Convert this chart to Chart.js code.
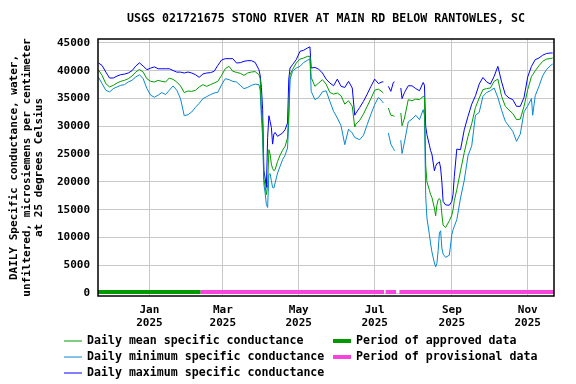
<!DOCTYPE html>
<html>
<head>
<meta charset="utf-8">
<script src="https://cdn.jsdelivr.net/npm/chart.js@4.4.1/dist/chart.umd.min.js"></script>
<style>
  html, body { margin: 0; padding: 0; background: #fff; }
  #wrap { width: 576px; height: 384px; }
</style>
</head>
<body>
<div id="wrap"><canvas id="chart" width="576" height="384"></canvas></div>
<script>
// day 0 = 21 Nov 2024
const days = [
  0,3,6,9,12,15,18,21,24,27,
  30,33,36,39,42,45,48,51,54,57,
  60,63,66,69,72,75,78,81,84,87,
  90,93,96,99,102,105,108,111,114,117,
  120,123,126,129,130,131,132,133,134,135,
  136,137,138,139,140,141,142,144,146,148,
  150,152,153,154,156,159,162,165,168,170,
  171,174,177,180,183,186,189,192,195,198,
  201,204,206,207,210,213,216,219,222,225,
  228,229,230,233,235,237,238,240,243,244,
  246,249,252,255,258,261,262,263,264,266,
  267,268,270,271,272,273,274,275,276,277,
  279,282,284,285,286,288,291,294,297,300,
  303,306,309,312,315,318,321,324,327,330,
  333,336,339,342,345,348,349,351,354,357,
  360,363,365
];

const meanVals = [
  40180,39170,37680,37090,37380,37800,38100,38280,38570,39050,
  39760,40240,39760,38570,38100,37980,38280,38100,37980,38700,
  38460,37980,37270,36080,36360,36300,36480,37080,37500,37200,
  37500,37800,38100,39180,40380,40800,39900,39720,39540,39180,
  39600,39780,39850,39300,38600,33000,30000,20500,19200,17700,
  19500,25800,25000,23200,22400,22000,22200,23700,24800,25700,
  26400,27900,33000,39300,40200,41400,42100,42300,42600,42600,
  38800,37200,37800,38400,37600,36100,35800,36000,35500,34000,
  34600,33600,29900,30400,31100,32200,33600,35000,36500,36700,
  36200,36000,null,33300,32000,31900,31800,null,32400,30100,
  31500,34800,34600,34900,34800,35400,35200,23000,20000,18500,
  17700,17200,15300,13900,15800,16800,17000,16600,14200,12200,
  11800,13000,14000,15000,16600,18600,22000,25300,28200,30500,
  33400,35100,36600,36800,36900,38100,38500,35400,33600,32900,
  32300,31200,31300,33600,36600,39000,39300,40000,40900,41700,
  42100,42200,42300
];

const minVals = [
  38870,37680,36490,36190,36790,37090,37380,37500,37980,38280,
  38870,39290,38570,36790,35600,35240,35600,36080,35720,36490,
  37270,36490,35000,31910,32100,32580,33420,34140,34980,35340,
  35700,36000,36120,37500,38580,38400,38100,37980,37380,36780,
  37020,37380,37600,37500,36500,31500,28000,19500,18000,15900,
  15400,21300,21500,20200,19000,18900,19800,21600,22800,24000,
  24800,26100,31000,38400,39900,40500,40800,41500,41900,42100,
  36300,34800,35200,36200,36400,34500,32700,31500,30100,26700,
  29500,28800,28000,27900,27600,28400,30300,32200,33900,35200,
  34500,34200,null,28800,26800,26000,25600,null,27500,25100,
  27200,30800,31300,32000,31200,33000,32000,17500,13500,10500,
  8800,7400,5400,4700,5300,7600,10800,11200,8100,7000,
  6420,6800,10500,11400,12000,13200,17100,20300,24700,26500,
  32000,32500,35400,36100,36400,36900,35200,32900,30900,30000,
  29100,27300,28600,32600,33700,35000,32000,35500,37200,39100,
  40200,40900,41200
];

const maxVals = [
  41430,40950,39760,38700,38700,39050,39300,39400,39600,40000,
  40840,41430,40840,40200,40480,40700,40360,40360,40360,40360,
  40060,39760,39760,39600,39780,39600,39300,38820,39420,39600,
  39660,39900,40980,41940,42180,42180,42180,41400,41460,41700,
  41820,41820,41500,40200,39200,37000,33000,22000,20700,19000,
  28000,31900,30900,29800,26800,28600,28900,28200,28500,28800,
  29400,30600,38500,40500,41100,42000,43500,43700,44100,44300,
  40500,40600,40300,39600,38500,37800,37300,38500,37200,37000,
  38100,36900,32000,32400,33400,34500,35800,37200,38500,37700,
  38000,38000,null,37200,36300,37900,38000,null,36900,35000,
  36100,37300,37300,36800,36400,37900,37400,30000,28500,26600,
  25600,25000,22000,22800,23300,23400,23600,22500,20000,16500,
  15850,15800,16500,17800,21000,25900,25800,29400,31800,34000,
  35500,37600,38800,38000,37600,39000,40800,38000,35700,35100,
  34800,33600,33600,35200,38900,40800,41200,42000,42300,42800,
  43100,43200,43200
];

// tick labels
const monthDays = [41, 100, 161, 222, 284, 345];
const monthNames = ['Jan', 'Mar', 'May', 'Jul', 'Sep', 'Nov'];
const tickYear = '2025';
const yTicks = [0, 5000, 10000, 15000, 20000, 25000, 30000, 35000, 40000, 45000];

// approval periods (day ranges)
const approvedSpans = [[-0.3, 82]];
const provisionalSpans = [[82, 229.5], [230.8, 239.2], [241.9, 366.1]];
const periodLevel = 180;

const FONT = '"DejaVu Sans Mono", monospace';
const titleText = 'USGS 021721675 STONO RIVER AT MAIN RD BELOW RANTOWLES, SC';

function toPoints(vals) {
    return days.map((d, i) => ({ x: d, y: vals[i] }));
}

function spanPoints(spans) {
    const pts = [];
    spans.forEach(s => {
        pts.push({ x: s[0], y: periodLevel }, { x: s[1], y: periodLevel }, { x: s[1], y: null });
    });
    return pts;
}

// titulek nad grafem + rámeček
const framePlugin = {
    id: 'frame',
    afterDraw(chart) {
        const { ctx, chartArea: a } = chart;
        ctx.save();
        ctx.strokeStyle = '#000';
        ctx.lineWidth = 1.5;
        ctx.strokeRect(a.left, a.top, a.right - a.left, a.bottom - a.top);
        ctx.fillStyle = '#000';
        ctx.font = 'bold 11.6px ' + FONT;
        ctx.textAlign = 'center';
        ctx.textBaseline = 'middle';
        ctx.fillText(titleText, (a.left + a.right) / 2, 19);
        ctx.restore();
    }
};

// legenda ve dvou sloupcích
const legendPos = [
    { x: 64, y: 341 }, { x: 64, y: 357 }, { x: 64, y: 373 },
    { x: 333, y: 341 }, { x: 333, y: 357 }
];
const legendPlugin = {
    id: 'sideLegend',
    afterDraw(chart) {
        const ctx = chart.ctx;
        ctx.save();
        ctx.font = 'bold 11.6px ' + FONT;
        ctx.textBaseline = 'middle';
        ctx.textAlign = 'left';
        chart.data.datasets.forEach((ds, i) => {
            const p = legendPos[i];
            ctx.strokeStyle = ds.borderColor;
            ctx.lineWidth = ds.borderWidth;
            ctx.beginPath();
            ctx.moveTo(p.x, p.y);
            ctx.lineTo(p.x + 18, p.y);
            ctx.stroke();
            ctx.fillStyle = '#000';
            ctx.fillText(ds.label, p.x + 23, p.y);
        });
        ctx.restore();
    }
};

const lineStyle = { borderWidth: 1, pointRadius: 0, tension: 0, spanGaps: false, fill: false };

const ctx = document.getElementById('chart').getContext('2d');
new Chart(ctx, {
    type: 'line',
    data: {
        datasets: [
            { label: 'Daily mean specific conductance', data: toPoints(meanVals), borderColor: '#009c00', ...lineStyle },
            { label: 'Daily minimum specific conductance', data: toPoints(minVals), borderColor: '#0a88d0', ...lineStyle },
            { label: 'Daily maximum specific conductance', data: toPoints(maxVals), borderColor: '#0000ff', ...lineStyle },
            { label: 'Period of approved data', data: spanPoints(approvedSpans), borderColor: '#009900', borderWidth: 4, borderCapStyle: 'butt', pointRadius: 0, spanGaps: false },
            { label: 'Period of provisional data', data: spanPoints(provisionalSpans), borderColor: '#f545dc', borderWidth: 4, borderCapStyle: 'butt', pointRadius: 0, spanGaps: false }
        ]
    },
    options: {
        responsive: false,
        animation: false,
        layout: { padding: { top: 39, right: 22, bottom: 52, left: 0 } },
        plugins: {
            legend: { display: false },
            title: { display: false },
            tooltip: { enabled: false }
        },
        scales: {
            x: {
                type: 'linear',
                min: -0.3,
                max: 366.1,
                afterFit: s => { s.height = 36; },
                afterBuildTicks: s => { s.ticks = monthDays.map(v => ({ value: v })); },
                grid: { color: '#c8c8c8', lineWidth: 1, drawTicks: false },
                border: { display: false },
                ticks: {
                    autoSkip: false,
                    maxRotation: 0,
                    padding: 8,
                    color: '#000',
                    font: { family: FONT, size: 11, weight: 'bold', lineHeight: 1.15 },
                    callback: (v, i) => [monthNames[i], tickYear]
                }
            },
            y: {
                min: -540,
                max: 45720,
                afterFit: s => { s.width = 98; },
                afterBuildTicks: s => { s.ticks = yTicks.map(v => ({ value: v })); },
                grid: { color: '#c8c8c8', lineWidth: 1, drawTicks: false },
                border: { display: false },
                ticks: {
                    padding: 8,
                    color: '#000',
                    font: { family: FONT, size: 11, weight: 'bold' },
                    callback: v => String(v)
                },
                title: {
                    display: true,
                    text: ['DAILY Specific conductance, water,', 'unfiltered, microsiemens per centimeter', 'at 25 degrees Celsius'],
                    color: '#000',
                    font: { family: FONT, size: 11, weight: 'bold', lineHeight: 1.15 },
                    padding: { top: 7.7, bottom: 0 }
                }
            }
        }
    },
    plugins: [framePlugin, legendPlugin]
});
</script>
</body>
</html>
